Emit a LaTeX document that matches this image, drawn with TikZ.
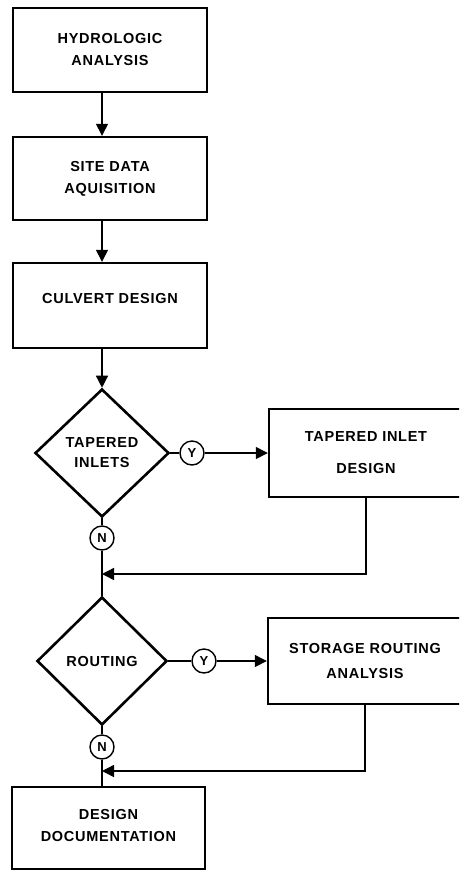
\documentclass[tikz,border=0pt]{standalone}
\usepackage{fontspec}
\newfontfamily\lbl[LetterSpace=5]{Liberation Sans}
\usetikzlibrary{shapes.geometric,arrows.meta}
\tikzset{
  lblfont/.style={font=\lbl\bfseries\fontsize{14.5}{22}\selectfont},
  box/.style={draw, line width=2.4pt, minimum width=194pt, minimum height=84pt,
    align=center, inner sep=0pt, lblfont},
  dia/.style={diamond, draw, line width=2.6pt, minimum width=134pt, minimum height=128pt,
    inner sep=0pt, align=center, lblfont},
  yn/.style={circle, draw, line width=1.4pt, minimum size=24pt, inner sep=0pt,
    font=\lbl\bfseries\fontsize{13}{13}\selectfont},
  conn/.style={line width=1.4pt},
  arr/.style={conn, -{Triangle[length=12pt,width=12pt]}},
}
\begin{document}
\begin{tikzpicture}[x=1pt,y=-1pt]
\useasboundingbox (0,0) rectangle (459,871);
\clip (0,0) rectangle (459,871);
% boxes
\node[box] (b1) at (110,50) {HYDROLOGIC\\ANALYSIS};
\node[box, minimum height=83pt] (b2) at (110,178.5) {SITE DATA\\AQUISITION};
\node[box, minimum height=85pt, text depth=14pt] (b3) at (110,305.5) {CULVERT DESIGN};
\node[dia] (d1) at (102,453) {TAPERED\\[-2pt]INLETS};
\node[yn] (y1) at (192,453) {Y};
\node[box, minimum height=88pt] (b4) at (366,453) {TAPERED INLET\\[10pt]DESIGN};
\node[yn] (n1) at (102,538) {N};
\coordinate (j1) at (102,574);
\node[dia, minimum width=130pt] (d2) at (102,661) {ROUTING};
\node[yn] (y2) at (204,661) {Y};
\node[box, minimum height=86pt] (b5) at (365,661) {STORAGE ROUTING\\[3pt]ANALYSIS};
\node[yn] (n2) at (102,747) {N};
\coordinate (j2) at (102,771);
\node[box, minimum width=193pt, minimum height=82pt, text depth=6pt] (b6) at (108.5,828) {DESIGN\\DOCUMENTATION};
% connectors
\draw[arr] (b1.south -| d1.north) -- (b2.north -| d1.north);
\draw[arr] (b2.south -| d1.north) -- (b3.north -| d1.north);
\draw[arr] (b3.south -| d1.north) -- (d1.north);
\draw[conn] (d1.east) -- (y1.west);
\draw[arr] (y1.east) -- (b4.west);
\draw[conn] (d1.south) -- (n1.north);
\draw[conn] (n1.south) -- (d2.north);
\draw[arr] (b4.south) |- (j1);
\draw[conn] (d2.east) -- (y2.west);
\draw[arr] (y2.east) -- (b5.west);
\draw[conn] (d2.south) -- (n2.north);
\draw[conn] (n2.south) -- (b6.north -| n2.south);
\draw[arr] (b5.south) |- (j2);
\end{tikzpicture}
\end{document}
